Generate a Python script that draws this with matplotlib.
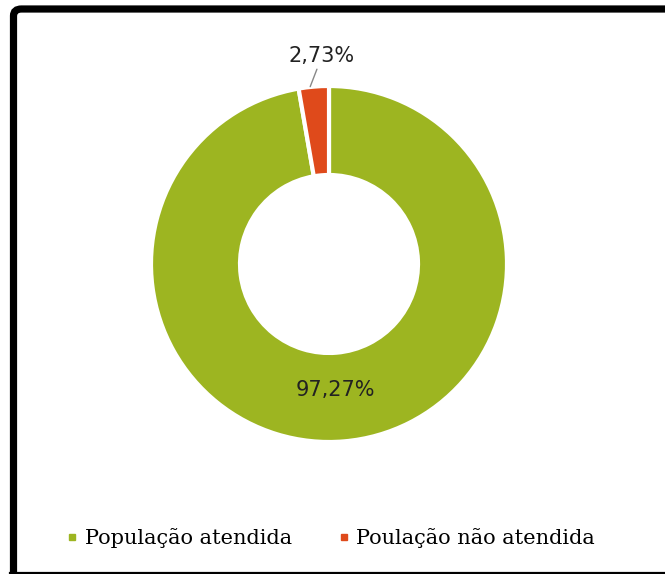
import matplotlib.pyplot as plt
import numpy as np
from matplotlib.patches import FancyBboxPatch
from matplotlib.lines import Line2D

# dados do gráfico
categorias = ['População atendida', 'Poulação não atendida']
valores = [97.27, 2.73]
cores = ['#9DB521', '#DF4A1B']
rotulos = ['97,27%', '2,73%']

W, H = 665, 574
fig = plt.figure(figsize=(W / 100, H / 100), dpi=100)

# moldura preta (cortada à direita e embaixo)
moldura = FancyBboxPatch((13.5 / W, 1 - 620 / H), (690 - 13.5) / W, (620 - 9) / H,
                         boxstyle='round,pad=0,rounding_size=0.012',
                         transform=fig.transFigure, fill=False,
                         edgecolor='black', linewidth=5.2, zorder=10)
fig.patches.append(moldura)
fig.add_artist(Line2D([10 / W, 1], [1 - 573 / H] * 2, transform=fig.transFigure,
                      color='black', linewidth=1.6, zorder=10))

# eixo da rosca
cx, cy, R = 329, 264, 178
ax = fig.add_axes([(cx - R) / W, 1 - (cy + R) / H, 2 * R / W, 2 * R / H])
ax.axis('off')

wedges, _ = ax.pie(valores, colors=cores, startangle=90, counterclock=False,
                   radius=1, wedgeprops=dict(width=0.5, edgecolor='white', linewidth=3))
ax.set_xlim(-1, 1)
ax.set_ylim(-1, 1)

# rótulo da fatia grande
w0 = wedges[0]
ang = np.deg2rad((w0.theta1 + w0.theta2) / 2)
ax.text(0.75 * np.cos(ang) - 0.03, 0.75 * np.sin(ang) + 0.04, rotulos[0],
        ha='center', va='center', fontsize=15, color='#222222')

# rótulo da fatia pequena com linha de chamada
w1 = wedges[1]
ang = np.deg2rad((w1.theta1 + w1.theta2) / 2)
ax.annotate(rotulos[1], xy=(1.0 * np.cos(ang) - 0.02, 1.0 * np.sin(ang)),
            xytext=(-0.04, 1.11), ha='center', va='bottom', fontsize=15,
            color='#222222', annotation_clip=False,
            arrowprops=dict(arrowstyle='-', color='#888888', lw=1,
                            shrinkA=0, shrinkB=0))

# legenda
handles = [Line2D([0], [0], marker='s', linestyle='none', markersize=5,
                  markerfacecolor=c, markeredgecolor=c) for c in cores]
fig.legend(handles, categorias, loc='center', bbox_to_anchor=(0.497, 1 - 538 / H),
           ncol=2, frameon=False, handlelength=0.6, handletextpad=0.3,
           columnspacing=2.2, prop={'family': 'DejaVu Serif', 'size': 15})

fig.savefig('out.png', dpi=100)
